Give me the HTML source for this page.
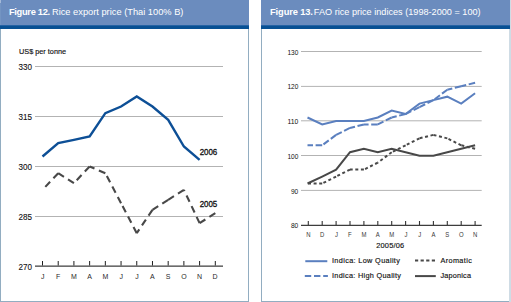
<!DOCTYPE html>
<html><head><meta charset="utf-8"><title>Rice price figures</title><style>
html,body{margin:0;padding:0;background:#fff;width:511px;height:302px;overflow:hidden}
svg{display:block;font-family:"Liberation Sans",sans-serif}
</style></head><body>
<svg width="511" height="302" viewBox="0 0 511 302">
<rect x="0" y="0" width="249" height="302" fill="#92adc1"/>
<rect x="1" y="29" width="247" height="272" fill="#fff"/>
<rect x="0" y="0" width="249" height="25" fill="#6b8cbe"/>
<rect x="0" y="25" width="249" height="4" fill="#085093"/>
<rect x="0" y="25" width="249" height="1" fill="#2563a4"/>
<rect x="0" y="0" width="1" height="25" fill="#7394c2"/>
<rect x="0" y="0" width="1" height="3" fill="#a4b9d8"/>
<rect x="261" y="0" width="250" height="302" fill="#92adc1"/>
<rect x="262" y="29" width="247" height="272" fill="#fff"/>
<rect x="509" y="29" width="2" height="273" fill="#cfdce5"/>
<rect x="510" y="0" width="1" height="29" fill="#cfdce5"/>
<rect x="261" y="0" width="249" height="25" fill="#6b8cbe"/>
<rect x="261" y="25" width="249" height="4" fill="#085093"/>
<rect x="261" y="25" width="249" height="1" fill="#2563a4"/>
<line x1="35" y1="66.50" x2="223" y2="66.50" stroke="#b3b3b3" stroke-width="1"/>
<line x1="35" y1="116.50" x2="223" y2="116.50" stroke="#b3b3b3" stroke-width="1"/>
<line x1="35" y1="166.50" x2="223" y2="166.50" stroke="#b3b3b3" stroke-width="1"/>
<line x1="35" y1="216.50" x2="223" y2="216.50" stroke="#b3b3b3" stroke-width="1"/>
<rect x="35" y="265" width="188" height="1" fill="#a0a0a0"/>
<rect x="35" y="266" width="188" height="1" fill="#6c6c6c"/>
<line x1="42.50" y1="261" x2="42.50" y2="265.5" stroke="#1e1e1e" stroke-width="1"/>
<line x1="58.21" y1="261" x2="58.21" y2="265.5" stroke="#1e1e1e" stroke-width="1"/>
<line x1="73.92" y1="261" x2="73.92" y2="265.5" stroke="#1e1e1e" stroke-width="1"/>
<line x1="89.63" y1="261" x2="89.63" y2="265.5" stroke="#1e1e1e" stroke-width="1"/>
<line x1="105.34" y1="261" x2="105.34" y2="265.5" stroke="#1e1e1e" stroke-width="1"/>
<line x1="121.05" y1="261" x2="121.05" y2="265.5" stroke="#1e1e1e" stroke-width="1"/>
<line x1="136.76" y1="261" x2="136.76" y2="265.5" stroke="#1e1e1e" stroke-width="1"/>
<line x1="152.47" y1="261" x2="152.47" y2="265.5" stroke="#1e1e1e" stroke-width="1"/>
<line x1="168.18" y1="261" x2="168.18" y2="265.5" stroke="#1e1e1e" stroke-width="1"/>
<line x1="183.89" y1="261" x2="183.89" y2="265.5" stroke="#1e1e1e" stroke-width="1"/>
<line x1="199.60" y1="261" x2="199.60" y2="265.5" stroke="#1e1e1e" stroke-width="1"/>
<line x1="215.31" y1="261" x2="215.31" y2="265.5" stroke="#1e1e1e" stroke-width="1"/>
<polyline points="42.50,156.50 58.21,143.17 73.92,139.83 89.63,136.50 105.34,113.17 121.05,106.50 136.76,96.50 152.47,106.50 168.18,119.83 183.89,146.50 199.60,159.83" fill="none" stroke="#0d4f96" stroke-width="2.4" stroke-linejoin="miter"/>
<line x1="58.21" y1="173.17" x2="42.50" y2="189.83" stroke="#484848" stroke-width="2.1" stroke-dasharray="7.0,4.8"/>
<line x1="73.92" y1="183.17" x2="58.21" y2="173.17" stroke="#484848" stroke-width="2.1" stroke-dasharray="7.0,4.8"/>
<line x1="89.63" y1="166.50" x2="73.92" y2="183.17" stroke="#484848" stroke-width="2.1" stroke-dasharray="7.0,4.8"/>
<line x1="105.34" y1="173.17" x2="89.63" y2="166.50" stroke="#484848" stroke-width="2.1" stroke-dasharray="7.0,4.8"/>
<line x1="121.05" y1="203.17" x2="105.34" y2="173.17" stroke="#484848" stroke-width="2.1" stroke-dasharray="7.0,4.8"/>
<line x1="136.76" y1="233.17" x2="121.05" y2="203.17" stroke="#484848" stroke-width="2.1" stroke-dasharray="7.0,4.8"/>
<line x1="152.47" y1="209.83" x2="136.76" y2="233.17" stroke="#484848" stroke-width="2.1" stroke-dasharray="7.0,4.8"/>
<line x1="168.18" y1="199.83" x2="152.47" y2="209.83" stroke="#484848" stroke-width="2.1" stroke-dasharray="7.0,4.8"/>
<line x1="183.89" y1="189.83" x2="168.18" y2="199.83" stroke="#484848" stroke-width="2.1" stroke-dasharray="7.0,4.8"/>
<line x1="199.60" y1="223.17" x2="183.89" y2="189.83" stroke="#484848" stroke-width="2.1" stroke-dasharray="7.0,4.8"/>
<line x1="215.31" y1="213.17" x2="199.60" y2="223.17" stroke="#484848" stroke-width="2.1" stroke-dasharray="7.0,4.8"/>
<line x1="301" y1="51.50" x2="481.7" y2="51.50" stroke="#b3b3b3" stroke-width="1"/>
<line x1="301" y1="86.40" x2="481.7" y2="86.40" stroke="#b3b3b3" stroke-width="1"/>
<line x1="301" y1="120.80" x2="481.7" y2="120.80" stroke="#b3b3b3" stroke-width="1"/>
<line x1="301" y1="155.50" x2="481.7" y2="155.50" stroke="#b3b3b3" stroke-width="1"/>
<line x1="301" y1="190.40" x2="481.7" y2="190.40" stroke="#b3b3b3" stroke-width="1"/>
<line x1="301" y1="225.3" x2="481.7" y2="225.3" stroke="#3d3d3d" stroke-width="1.2"/>
<line x1="308.30" y1="221" x2="308.30" y2="225" stroke="#333" stroke-width="1.1"/>
<line x1="322.20" y1="221" x2="322.20" y2="225" stroke="#333" stroke-width="1.1"/>
<line x1="336.10" y1="221" x2="336.10" y2="225" stroke="#333" stroke-width="1.1"/>
<line x1="350.00" y1="221" x2="350.00" y2="225" stroke="#333" stroke-width="1.1"/>
<line x1="363.90" y1="221" x2="363.90" y2="225" stroke="#333" stroke-width="1.1"/>
<line x1="377.80" y1="221" x2="377.80" y2="225" stroke="#333" stroke-width="1.1"/>
<line x1="391.70" y1="221" x2="391.70" y2="225" stroke="#333" stroke-width="1.1"/>
<line x1="405.60" y1="221" x2="405.60" y2="225" stroke="#333" stroke-width="1.1"/>
<line x1="419.50" y1="221" x2="419.50" y2="225" stroke="#333" stroke-width="1.1"/>
<line x1="433.40" y1="221" x2="433.40" y2="225" stroke="#333" stroke-width="1.1"/>
<line x1="447.30" y1="221" x2="447.30" y2="225" stroke="#333" stroke-width="1.1"/>
<line x1="461.20" y1="221" x2="461.20" y2="225" stroke="#333" stroke-width="1.1"/>
<line x1="475.10" y1="221" x2="475.10" y2="225" stroke="#333" stroke-width="1.1"/>
<polyline points="307.50,183.51 322.20,176.56 336.10,169.62 350.00,152.25 363.90,148.77 377.80,152.25 391.70,148.77 405.60,152.25 419.50,155.72 433.40,155.72 447.30,152.25 461.20,148.77 475.10,145.30" fill="none" stroke="#484848" stroke-width="2"/>
<line x1="322.20" y1="183.51" x2="307.50" y2="183.51" stroke="#484848" stroke-width="2" stroke-dasharray="3.0,2.6"/>
<line x1="336.10" y1="176.56" x2="322.20" y2="183.51" stroke="#484848" stroke-width="2" stroke-dasharray="3.0,2.6"/>
<line x1="350.00" y1="169.62" x2="336.10" y2="176.56" stroke="#484848" stroke-width="2" stroke-dasharray="3.0,2.6"/>
<line x1="363.90" y1="169.62" x2="350.00" y2="169.62" stroke="#484848" stroke-width="2" stroke-dasharray="3.0,2.6"/>
<line x1="377.80" y1="162.67" x2="363.90" y2="169.62" stroke="#484848" stroke-width="2" stroke-dasharray="3.0,2.6"/>
<line x1="391.70" y1="152.25" x2="377.80" y2="162.67" stroke="#484848" stroke-width="2" stroke-dasharray="3.0,2.6"/>
<line x1="405.60" y1="145.30" x2="391.70" y2="152.25" stroke="#484848" stroke-width="2" stroke-dasharray="3.0,2.6"/>
<line x1="419.50" y1="138.35" x2="405.60" y2="145.30" stroke="#484848" stroke-width="2" stroke-dasharray="3.0,2.6"/>
<line x1="433.40" y1="134.88" x2="419.50" y2="138.35" stroke="#484848" stroke-width="2" stroke-dasharray="3.0,2.6"/>
<line x1="447.30" y1="138.35" x2="433.40" y2="134.88" stroke="#484848" stroke-width="2" stroke-dasharray="3.0,2.6"/>
<line x1="461.20" y1="145.30" x2="447.30" y2="138.35" stroke="#484848" stroke-width="2" stroke-dasharray="3.0,2.6"/>
<line x1="475.10" y1="148.77" x2="461.20" y2="145.30" stroke="#484848" stroke-width="2" stroke-dasharray="3.0,2.6"/>
<line x1="322.20" y1="145.30" x2="307.50" y2="145.30" stroke="#5a7fbf" stroke-width="2" stroke-dasharray="6.6,2.6"/>
<line x1="336.10" y1="134.88" x2="322.20" y2="145.30" stroke="#5a7fbf" stroke-width="2" stroke-dasharray="6.6,2.6"/>
<line x1="350.00" y1="127.93" x2="336.10" y2="134.88" stroke="#5a7fbf" stroke-width="2" stroke-dasharray="6.6,2.6"/>
<line x1="363.90" y1="124.45" x2="350.00" y2="127.93" stroke="#5a7fbf" stroke-width="2" stroke-dasharray="6.6,2.6"/>
<line x1="377.80" y1="124.45" x2="363.90" y2="124.45" stroke="#5a7fbf" stroke-width="2" stroke-dasharray="6.6,2.6"/>
<line x1="391.70" y1="117.51" x2="377.80" y2="124.45" stroke="#5a7fbf" stroke-width="2" stroke-dasharray="6.6,2.6"/>
<line x1="405.60" y1="114.03" x2="391.70" y2="117.51" stroke="#5a7fbf" stroke-width="2" stroke-dasharray="6.6,2.6"/>
<line x1="419.50" y1="107.08" x2="405.60" y2="114.03" stroke="#5a7fbf" stroke-width="2" stroke-dasharray="6.6,2.6"/>
<line x1="433.40" y1="100.14" x2="419.50" y2="107.08" stroke="#5a7fbf" stroke-width="2" stroke-dasharray="6.6,2.6"/>
<line x1="447.30" y1="89.71" x2="433.40" y2="100.14" stroke="#5a7fbf" stroke-width="2" stroke-dasharray="6.6,2.6"/>
<line x1="461.20" y1="86.24" x2="447.30" y2="89.71" stroke="#5a7fbf" stroke-width="2" stroke-dasharray="6.6,2.6"/>
<line x1="475.10" y1="82.77" x2="461.20" y2="86.24" stroke="#5a7fbf" stroke-width="2" stroke-dasharray="6.6,2.6"/>
<polyline points="307.50,117.51 322.20,124.45 336.10,120.98 350.00,120.98 363.90,120.98 377.80,117.51 391.70,110.56 405.60,114.03 419.50,103.61 433.40,100.14 447.30,96.66 461.20,103.61 475.10,93.19" fill="none" stroke="#5a7fbf" stroke-width="2"/>
<line x1="305.3" y1="261.2" x2="327.3" y2="261.2" stroke="#5a7fbf" stroke-width="2"/>
<line x1="304.8" y1="276" x2="327.9" y2="276" stroke="#5a7fbf" stroke-width="2" stroke-dasharray="6.4,2.8"/>
<line x1="415" y1="260.5" x2="435.1" y2="260.5" stroke="#484848" stroke-width="2.1" stroke-dasharray="3.2,2.4"/>
<line x1="415" y1="276.1" x2="435.8" y2="276.1" stroke="#484848" stroke-width="2"/>
<text x="8.950" y="15.000" font-size="9.3" font-weight="bold" fill="#fff" textLength="41.168" lengthAdjust="spacing">Figure 12.</text>
<text x="51.950" y="15.000" font-size="9.3" font-weight="normal" fill="#fff" textLength="131.512" lengthAdjust="spacingAndGlyphs">Rice export price (Thai 100% B)</text>
<text x="270.050" y="15.000" font-size="9.3" font-weight="bold" fill="#fff" textLength="42.918" lengthAdjust="spacing">Figure 13.</text>
<text x="313.850" y="15.000" font-size="9.3" font-weight="normal" fill="#fff" textLength="166.762" lengthAdjust="spacingAndGlyphs">FAO rice price indices (1998-2000 = 100)</text>
<text x="19.000" y="54.300" font-size="7.3" font-weight="normal" fill="#111" textLength="47.059" lengthAdjust="spacing" stroke="#111" stroke-width="0.15">US$ per tonne</text>
<text x="18.550" y="70.000" font-size="8.7" font-weight="normal" fill="#111" textLength="13.516" lengthAdjust="spacingAndGlyphs" stroke="#111" stroke-width="0.1">330</text>
<text x="18.550" y="119.975" font-size="8.7" font-weight="normal" fill="#111" textLength="13.516" lengthAdjust="spacingAndGlyphs" stroke="#111" stroke-width="0.1">315</text>
<text x="18.550" y="169.950" font-size="8.7" font-weight="normal" fill="#111" textLength="13.516" lengthAdjust="spacingAndGlyphs" stroke="#111" stroke-width="0.1">300</text>
<text x="18.550" y="219.925" font-size="8.7" font-weight="normal" fill="#111" textLength="13.516" lengthAdjust="spacingAndGlyphs" stroke="#111" stroke-width="0.1">285</text>
<text x="18.550" y="269.900" font-size="8.7" font-weight="normal" fill="#111" textLength="13.516" lengthAdjust="spacingAndGlyphs" stroke="#111" stroke-width="0.1">270</text>
<text x="40.875" y="279.100" font-size="7.0" font-weight="normal" fill="#2a2a2a">J</text>
<text x="55.885" y="279.100" font-size="7.0" font-weight="normal" fill="#2a2a2a">F</text>
<text x="71.020" y="279.100" font-size="7.0" font-weight="normal" fill="#2a2a2a">M</text>
<text x="87.280" y="279.100" font-size="7.0" font-weight="normal" fill="#2a2a2a">A</text>
<text x="102.415" y="279.100" font-size="7.0" font-weight="normal" fill="#2a2a2a">M</text>
<text x="119.425" y="279.100" font-size="7.0" font-weight="normal" fill="#2a2a2a">J</text>
<text x="135.185" y="279.100" font-size="7.0" font-weight="normal" fill="#2a2a2a">J</text>
<text x="150.070" y="279.100" font-size="7.0" font-weight="normal" fill="#2a2a2a">A</text>
<text x="165.830" y="279.100" font-size="7.0" font-weight="normal" fill="#2a2a2a">S</text>
<text x="181.215" y="279.100" font-size="7.0" font-weight="normal" fill="#2a2a2a">O</text>
<text x="196.975" y="279.100" font-size="7.0" font-weight="normal" fill="#2a2a2a">N</text>
<text x="212.610" y="279.100" font-size="7.0" font-weight="normal" fill="#2a2a2a">D</text>
<text x="199.650" y="155.000" font-size="8.6" font-weight="normal" fill="#111" textLength="17.629" lengthAdjust="spacingAndGlyphs" stroke="#111" stroke-width="0.32">2006</text>
<text x="199.650" y="207.200" font-size="8.6" font-weight="normal" fill="#111" textLength="17.629" lengthAdjust="spacingAndGlyphs" stroke="#111" stroke-width="0.32">2005</text>
<text x="287.400" y="54.600" font-size="7.3" font-weight="normal" fill="#111" textLength="10.926" lengthAdjust="spacingAndGlyphs">130</text>
<text x="287.400" y="89.370" font-size="7.3" font-weight="normal" fill="#111" textLength="10.926" lengthAdjust="spacingAndGlyphs">120</text>
<text x="287.400" y="124.140" font-size="7.3" font-weight="normal" fill="#111" textLength="10.883" lengthAdjust="spacingAndGlyphs">110</text>
<text x="287.400" y="158.910" font-size="7.3" font-weight="normal" fill="#111" textLength="10.926" lengthAdjust="spacingAndGlyphs">100</text>
<text x="290.950" y="193.680" font-size="7.3" font-weight="normal" fill="#111" textLength="7.367" lengthAdjust="spacingAndGlyphs">90</text>
<text x="290.950" y="228.450" font-size="7.3" font-weight="normal" fill="#111" textLength="7.367" lengthAdjust="spacingAndGlyphs">80</text>
<text x="306.125" y="237.000" font-size="7.0" font-weight="normal" fill="#383838" textLength="4.300" lengthAdjust="spacingAndGlyphs">N</text>
<text x="319.875" y="237.000" font-size="7.0" font-weight="normal" fill="#383838" textLength="4.300" lengthAdjust="spacingAndGlyphs">D</text>
<text x="334.875" y="237.000" font-size="7.0" font-weight="normal" fill="#383838" textLength="2.975" lengthAdjust="spacingAndGlyphs">J</text>
<text x="348.000" y="237.000" font-size="7.0" font-weight="normal" fill="#383838" textLength="3.636" lengthAdjust="spacingAndGlyphs">F</text>
<text x="361.500" y="237.000" font-size="7.0" font-weight="normal" fill="#383838" textLength="4.957" lengthAdjust="spacingAndGlyphs">M</text>
<text x="375.750" y="237.000" font-size="7.0" font-weight="normal" fill="#383838" textLength="3.971" lengthAdjust="spacingAndGlyphs">A</text>
<text x="389.250" y="237.000" font-size="7.0" font-weight="normal" fill="#383838" textLength="4.957" lengthAdjust="spacingAndGlyphs">M</text>
<text x="404.375" y="237.000" font-size="7.0" font-weight="normal" fill="#383838" textLength="2.975" lengthAdjust="spacingAndGlyphs">J</text>
<text x="418.250" y="237.000" font-size="7.0" font-weight="normal" fill="#383838" textLength="2.975" lengthAdjust="spacingAndGlyphs">J</text>
<text x="431.375" y="237.000" font-size="7.0" font-weight="normal" fill="#383838" textLength="3.971" lengthAdjust="spacingAndGlyphs">A</text>
<text x="445.250" y="237.000" font-size="7.0" font-weight="normal" fill="#383838" textLength="3.971" lengthAdjust="spacingAndGlyphs">S</text>
<text x="458.875" y="237.000" font-size="7.0" font-weight="normal" fill="#383838" textLength="4.629" lengthAdjust="spacingAndGlyphs">O</text>
<text x="473.000" y="237.000" font-size="7.0" font-weight="normal" fill="#383838" textLength="4.300" lengthAdjust="spacingAndGlyphs">N</text>
<text x="376.150" y="248.200" font-size="7.4" font-weight="normal" fill="#111" textLength="28.046" lengthAdjust="spacing" stroke="#111" stroke-width="0.15">2005/06</text>
<text x="332.000" y="262.700" font-size="7.3" font-weight="normal" fill="#111" textLength="67.902" lengthAdjust="spacing" stroke="#111" stroke-width="0.15">Indica: Low Quality</text>
<text x="332.000" y="277.600" font-size="7.3" font-weight="normal" fill="#111" textLength="69.023" lengthAdjust="spacing" stroke="#111" stroke-width="0.15">Indica: High Quality</text>
<text x="440.500" y="262.700" font-size="7.3" font-weight="normal" fill="#111" textLength="31.289" lengthAdjust="spacing" stroke="#111" stroke-width="0.15">Aromatic</text>
<text x="440.500" y="277.600" font-size="7.3" font-weight="normal" fill="#111" textLength="30.461" lengthAdjust="spacing" stroke="#111" stroke-width="0.15">Japonica</text>
</svg>
</body></html>
